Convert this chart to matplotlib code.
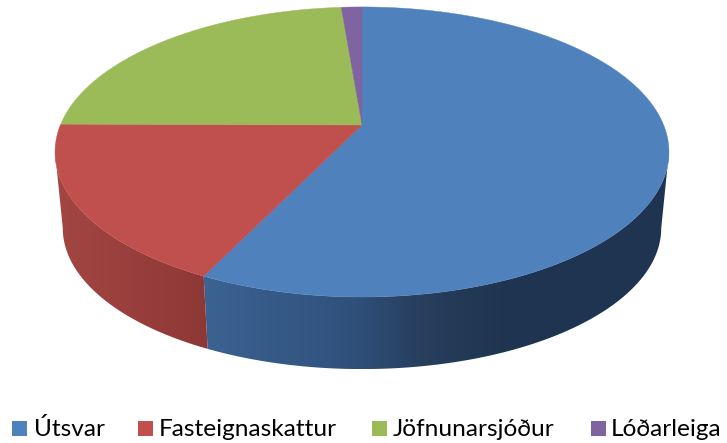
import numpy as np
import matplotlib
matplotlib.use('Agg')
import matplotlib.pyplot as plt
from matplotlib.colors import LinearSegmentedColormap
from matplotlib.patches import Polygon, Rectangle

labels = ['Útsvar', 'Fasteignaskattur', 'Jöfnunarsjóður', 'Lóðarleiga']
values = [57.2, 17.9, 23.6, 1.3]
colors = ['#4f81bd', '#c0504d', '#9bbb59', '#8064a2']

legend_box_x = [12, 138, 372, 591]
legend_text_x = [33.5, 158.5, 393, 611]

W, H = 727, 443
cx, cy = 362, 125      # apex of the pie on the top face
rx, ry = 301.6, 140    # unit circle scale
persp = 0.186          # far side shrinks
bottom_cy, bottom_rx, bottom_ry = 202, 294, 136
silhouette = 10.7      # degrees past the side points where the wall turns out of sight


def rim(angles, x0=cx, y0=cy, sx=rx, sy=ry):
    # angles in degrees, clockwise from 12 o'clock
    a = np.radians(angles)
    u, v = np.sin(a), np.cos(a)
    w = 1 + persp * v
    return np.column_stack([x0 + sx * u / w, y0 - sy * v / w])


def wall(ax, a1, a2, stops):
    aa = np.linspace(a1, a2, 200)
    top = rim(aa)
    low = rim(aa, cx, bottom_cy, bottom_rx, bottom_ry)
    pts = np.vstack([top, low[::-1]])
    x1, x2 = stops[0][0], stops[-1][0]
    cmap = LinearSegmentedColormap.from_list('wall', [((x - x1) / (x2 - x1), c) for x, c in stops])
    im = ax.imshow(np.linspace(0, 1, 512)[None, :], cmap=cmap, aspect='auto',
                   extent=(x1, x2, pts[:, 1].max(), pts[:, 1].min()), zorder=1, interpolation='bilinear')
    im.set_clip_path(Polygon(pts, closed=True, transform=ax.transData))


fig = plt.figure(figsize=(W / 100, H / 100), dpi=100)
ax = fig.add_axes([0, 0, 1, 1])

# slice edges from the values
edges = np.concatenate([[0], np.cumsum(values)]) / sum(values) * 360

# side walls, only blue and red can be seen
wall(ax, 90 + silhouette, edges[1], [(200, '#3c6393'), (350, '#30517c'), (420, '#283f5e'),
                                     (500, '#1f3550'), (675, '#1e3450')])
wall(ax, edges[1], 270 - silhouette, [(50, '#a34742'), (130, '#993f3d'), (212, '#8d3836')])

# top face
for i in range(len(values)):
    aa = np.linspace(edges[i], edges[i + 1], 300)
    pts = np.vstack([[cx, cy], rim(aa)])
    ax.add_patch(Polygon(pts, closed=True, facecolor=colors[i], edgecolor=colors[i], lw=0.3, zorder=2))

# legend
for i in range(len(labels)):
    ax.add_patch(Rectangle((legend_box_x[i], 421), 15, 15, facecolor=colors[i], edgecolor='none', zorder=3))
    ax.text(legend_text_x[i], 436, labels[i], fontsize=17.6, family='Lato', color='black',
            ha='left', va='baseline', zorder=3)

ax.set_xlim(0, W)
ax.set_ylim(H, 0)
ax.axis('off')

fig.savefig('out.png', dpi=100)
